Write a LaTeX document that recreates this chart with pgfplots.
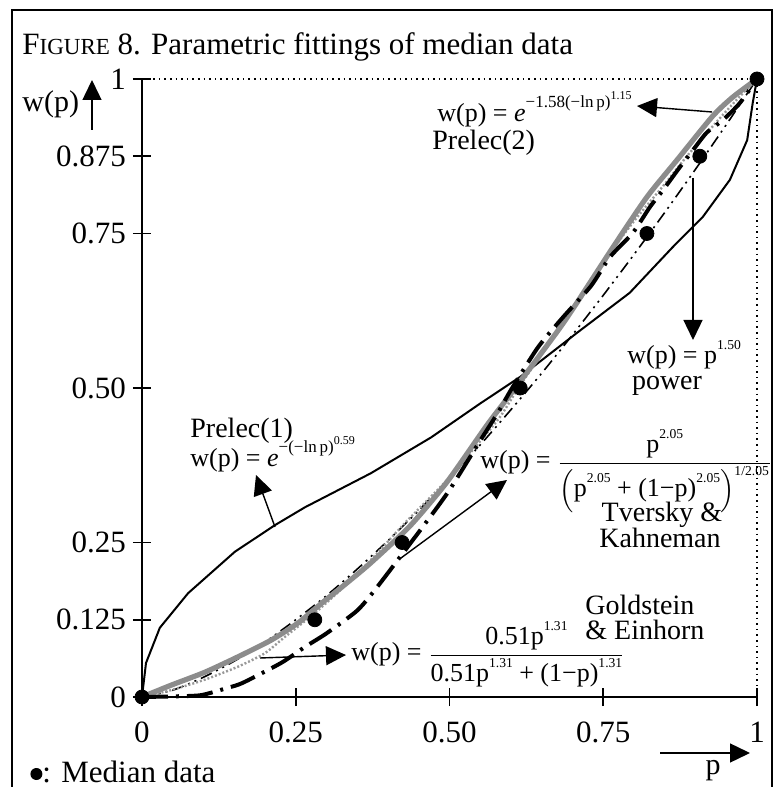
\documentclass[border=0pt]{standalone}
\usepackage{amsmath}
\usepackage{fontspec}
\setmainfont{Liberation Serif}
\usepackage{pgfplots}
\pgfplotsset{compat=1.18}
\usetikzlibrary{arrows.meta}

% superscripts built from the text font
\newcommand{\sps}[1]{\raisebox{0.55em}{\fontsize{6.8}{7}\selectfont #1}}
\newcommand{\spe}[1]{\raisebox{0.55em}{\fontsize{8.5}{9}\selectfont #1}}
\newcommand{\spss}[1]{\raisebox{0.5em}{\fontsize{6}{7}\selectfont #1}}
\newcommand{\tfont}{\fontsize{15.5}{18}\selectfont}
\newcommand{\lfont}{\fontsize{14}{16}\selectfont}
\newcommand{\ffont}{\fontsize{13}{15}\selectfont}

\pgfplotstableread{
x y
0 0
0.0065 0.055
0.029 0.112
0.075 0.168
0.151 0.235
0.216 0.278
0.265 0.307
0.372 0.362
0.470 0.420
0.550 0.475
0.615 0.518
0.707 0.589
0.793 0.654
0.863 0.728
0.912 0.777
0.956 0.837
0.984 0.901
0.993 0.961
1 1
}\prelecone

\pgfplotstableread{
x y
0 0
0.047 0.019
0.102 0.040
0.156 0.065
0.210 0.092
0.254 0.120
0.290 0.150
0.330 0.182
0.372 0.217
0.436 0.277
0.496 0.348
0.561 0.440
0.603 0.495
0.685 0.605
0.766 0.728
0.821 0.809
0.870 0.869
0.928 0.940
0.961 0.971
1 1
}\prelectwo

\pgfplotstableread{
x y
0 0
0.047 0.011
0.102 0.028
0.156 0.049
0.200 0.071
0.232 0.097
0.280 0.135
0.330 0.180
0.380 0.230
0.428 0.282
0.496 0.351
0.538 0.400
0.582 0.453
0.610 0.497
0.650 0.555
0.700 0.625
0.750 0.703
0.800 0.770
0.850 0.830
0.886 0.875
0.940 0.937
0.977 0.977
1 1
}\goldstein

\pgfplotstableread{
x y
0 0
0.050 0.001
0.096 0.003
0.140 0.015
0.164 0.023
0.226 0.055
0.265 0.081
0.300 0.103
0.350 0.140
0.384 0.180
0.460 0.280
0.500 0.335
0.550 0.415
0.580 0.462
0.600 0.497
0.644 0.566
0.685 0.615
0.730 0.665
0.761 0.712
0.798 0.751
0.826 0.793
0.847 0.820
0.875 0.858
0.896 0.885
0.918 0.913
0.945 0.934
0.972 0.961
1 1
}\tversky

\pgfplotstableread{
x y
0 0
0.05 0.011
0.10 0.032
0.15 0.058
0.20 0.089
0.25 0.125
0.30 0.164
0.35 0.207
0.40 0.253
0.45 0.302
0.50 0.354
0.55 0.408
0.60 0.465
0.65 0.524
0.70 0.586
0.75 0.650
0.80 0.716
0.85 0.784
0.90 0.854
0.95 0.926
1 1
}\power

\pgfplotstableread{
x y
0 0
0.281 0.125
0.423 0.25
0.615 0.5
0.821 0.75
0.907 0.875
1 1
}\median

\begin{document}
\begin{tikzpicture}[>={Triangle[length=10pt,width=9.5pt]}]
% page = reference image, 0.5pt per pixel, axis origin at pixel (142,697)
\path[use as bounding box] (-71pt,-45pt) rectangle (318.5pt,348.5pt);

\begin{axis}[
  at={(0pt,0pt)}, anchor=south west,
  scale only axis, width=307.5pt, height=309pt,
  xmin=0, xmax=1, ymin=0, ymax=1,
  axis lines*=left,
  axis line style={line width=0.9pt},
  xtick={0,0.25,0.5,0.75,1},
  xticklabels={0,0.25,0.50,0.75,1},
  ytick={0,0.125,0.25,0.5,0.75,0.875,1},
  yticklabels={0,0.125,0.25,0.50,0.75,0.875,1},
  tick align=center, major tick length=9pt,
  tick style={black, line width=0.8pt},
  ticklabel style={font=\tfont},
  xticklabel style={yshift=-4.5pt},
  /pgf/number format/assume math mode=true,
  clip=false,
]
\addplot[black, line width=1pt] table {\prelecone};
\addplot[black, line width=0.8pt, smooth, tension=0.4, dash pattern=on 6pt off 2.5pt on 1pt off 2.5pt on 1pt off 2.5pt] table {\power};
\addplot[gray!80, line width=1.2pt, smooth, tension=0.4, dash pattern=on 1pt off 1pt] table {\goldstein};
\addplot[gray!90, line width=2.6pt, smooth, tension=0.4] table {\prelectwo};
\addplot[black, line width=2pt, smooth, tension=0.4, dash pattern=on 13pt off 4pt on 1.5pt off 4pt] table {\tversky};
\addplot[only marks, mark=*, mark size=3.5pt, black] table {\median};
\draw[dotted, line width=0.8pt] (axis cs:0,1) -- (axis cs:1,1) -- (axis cs:1,0);
\end{axis}

\begin{scope}[x=0.5pt,y=-0.5pt,shift={(-71pt,348.5pt)},font=\lfont]
\draw[line width=1pt] (12,800) -- (12,10) -- (772,10) -- (772,800);
\node[anchor=base west,inner sep=0pt,font=\tfont] at (22,55)
  {F{\fontsize{11.5}{14}\selectfont IGURE} 8. Parametric fittings of median data};
% axis names
\node[anchor=base west,inner sep=0pt,font=\fontsize{15}{18}\selectfont] at (22,112) {w(p)};
\draw[->,line width=0.7pt] (92,130) -- (92,80);
\node[anchor=base,inner sep=0pt,font=\fontsize{15}{18}\selectfont] at (713,774) {p};
\draw[->,line width=0.7pt] (660,753) -- (750,753);
\node[anchor=base west,inner sep=0pt,font=\tfont] at (30,782)
  {\tikz[baseline={(0,-4pt)}]\fill (0,0) circle (3pt);: Median data};
% Prelec(1)
\node[anchor=base west,inner sep=0pt] at (190,438) {Prelec(1)};
\node[anchor=base west,inner sep=0pt,font=\ffont] at (190,467) {w(p) = \textit{e}\spe{−(−ln\,p)\spss{0.59}}};
\draw[->,line width=0.7pt] (275,527) -- (256,475);
% Prelec(2)
\node[anchor=base west,inner sep=0pt,font=\ffont] at (437,122) {w(p) = \textit{e}\spe{−1.58(−ln\,p)\spss{1.15}}};
\node[anchor=base west,inner sep=0pt] at (432,150) {Prelec(2)};
\draw[->,line width=0.7pt] (712,112) -- (637,106);
% power
\draw[->,line width=0.7pt] (693,178) -- (693,340);
\node[anchor=base west,inner sep=0pt,font=\ffont] at (627,364) {w(p) = p\sps{1.50}};
\node[anchor=base,inner sep=0pt] at (667,390) {power};
% Tversky & Kahneman
\node[anchor=base west,inner sep=0pt,font=\ffont] at (480,469)
  {$\mbox{w(p) = }\dfrac{\mbox{p\sps{2.05}}}{\left(\mbox{p\sps{2.05} + (1−p)\sps{2.05}}\right)^{\mbox{\fontsize{6.8}{7}\selectfont 1/2.05}}}$};
\node[anchor=base,inner sep=0pt] at (662,522) {Tversky \&};
\node[anchor=base,inner sep=0pt] at (660,548) {Kahneman};
\draw[->,line width=0.7pt] (401,558) -- (507,480);
% Goldstein & Einhorn
\node[anchor=base west,inner sep=0pt,font=\ffont] at (351,661)
  {$\mbox{w(p) = }\dfrac{\mbox{0.51p\sps{1.31}}}{\mbox{0.51p\sps{1.31} + (1−p)\sps{1.31}}}$};
\node[anchor=base west,inner sep=0pt] at (585,615) {Goldstein};
\node[anchor=base west,inner sep=0pt] at (585,640) {\& Einhorn};
\draw[->,line width=0.7pt] (260,658) -- (346,655);
\end{scope}
\end{tikzpicture}
\end{document}
